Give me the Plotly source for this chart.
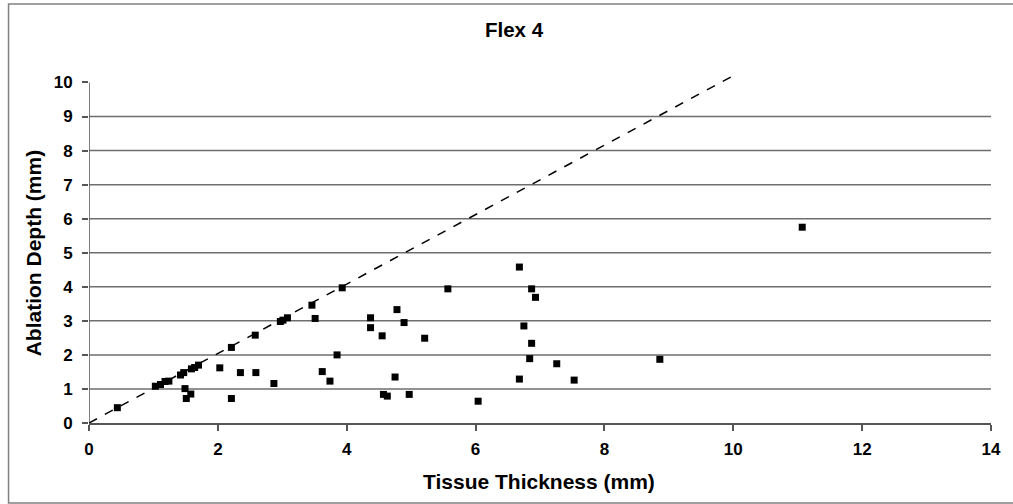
import plotly.graph_objects as go

thickness = [0.44, 1.03, 1.11, 1.18, 1.24, 1.42, 1.47, 1.49, 1.51, 1.58, 1.59, 1.64, 1.70,
             2.03, 2.21, 2.21, 2.35, 2.58, 2.59, 2.87, 2.97, 3.01, 3.08, 3.46, 3.51, 3.62,
             3.74, 3.85, 3.93, 4.37, 4.37, 4.55, 4.57, 4.63, 4.75, 4.78, 4.89, 4.97, 5.21,
             5.57, 6.04, 6.68, 6.68, 6.75, 6.84, 6.87, 6.87, 6.93, 7.26, 7.53, 8.86, 11.07]
depth = [0.45, 1.08, 1.13, 1.22, 1.23, 1.41, 1.48, 1.01, 0.72, 0.85, 1.59, 1.63, 1.70,
         1.62, 2.22, 0.72, 1.48, 2.58, 1.48, 1.16, 2.98, 3.02, 3.09, 3.46, 3.07, 1.51,
         1.23, 2.00, 3.97, 3.09, 2.80, 2.56, 0.84, 0.79, 1.35, 3.33, 2.95, 0.84, 2.49,
         3.94, 0.64, 4.58, 1.29, 2.85, 1.89, 3.94, 2.34, 3.69, 1.74, 1.26, 1.87, 5.75]
ref_x = [0, 10]
ref_y = [0, 10.2]
grid_vals = [1, 2, 3, 4, 5, 6, 7, 8, 9]
x_ticks = [0, 2, 4, 6, 8, 10, 12, 14]
y_ticks = [0, 1, 2, 3, 4, 5, 6, 7, 8, 9, 10]
y_axis_top = 10

FONT = "Liberation Sans, Arial, sans-serif"

fig = go.Figure()
fig.add_trace(go.Scatter(x=ref_x, y=ref_y, mode="lines",
                         line=dict(color="black", width=1.5, dash="dash"),
                         showlegend=False, hoverinfo="skip"))
fig.add_trace(go.Scatter(x=thickness, y=depth, mode="markers",
                         marker=dict(symbol="square", size=7, color="black"),
                         showlegend=False))

shapes = []
for g in grid_vals:
    shapes.append(dict(type="line", xref="paper", yref="y", x0=0, x1=1, y0=g, y1=g,
                       line=dict(color="#6e6e6e", width=1.5), layer="below"))
# y axis line (stops at 10)
shapes.append(dict(type="line", xref="x", yref="y", x0=0, x1=0, y0=0, y1=y_axis_top,
                   line=dict(color="#555", width=1.5), layer="below"))
# outer chart border
shapes.append(dict(type="rect", xref="paper", yref="paper",
                   x0=-0.0892, x1=1.3, y0=-0.2299, y1=1.204,
                   line=dict(color="#808080", width=1.5)))

fig.update_layout(
    width=1013, height=504,
    margin=dict(l=89, r=16, t=75, b=81),
    paper_bgcolor="white", plot_bgcolor="white",
    shapes=shapes,
    title=dict(text="Flex 4", x=514/1013, xref="container", y=1-30/504, yref="container",
               xanchor="center", yanchor="middle",
               font=dict(family=FONT, size=20.5, color="black", weight="bold")),
    xaxis=dict(range=[0, 14], tickvals=x_ticks, showgrid=False, zeroline=False,
               showline=True, linecolor="#555", linewidth=1.5,
               ticks="outside", ticklen=6, tickcolor="#555", tickwidth=1.5,
               ticklabelstandoff=4,
               tickfont=dict(family=FONT, size=17, color="black", weight="bold")),
    yaxis=dict(range=[0, 10.22], tickvals=y_ticks, showgrid=False, zeroline=False,
               showline=False,
               ticks="outside", ticklen=6, tickcolor="#555", tickwidth=1.5,
               ticklabelstandoff=6,
               tickfont=dict(family=FONT, size=17, color="black", weight="bold")),
    annotations=[
        dict(text="Tissue Thickness (mm)", xref="paper", yref="paper", x=0.499, y=-0.1667,
             xanchor="center", yanchor="middle", showarrow=False,
             font=dict(family=FONT, size=21, color="black", weight="bold")),
        dict(text="Ablation Depth (mm)", xref="paper", yref="paper", x=-0.0617, y=0.4885,
             xanchor="center", yanchor="middle", showarrow=False, textangle=-90,
             font=dict(family=FONT, size=21, color="black", weight="bold")),
    ],
)

fig.write_html("out.html")
